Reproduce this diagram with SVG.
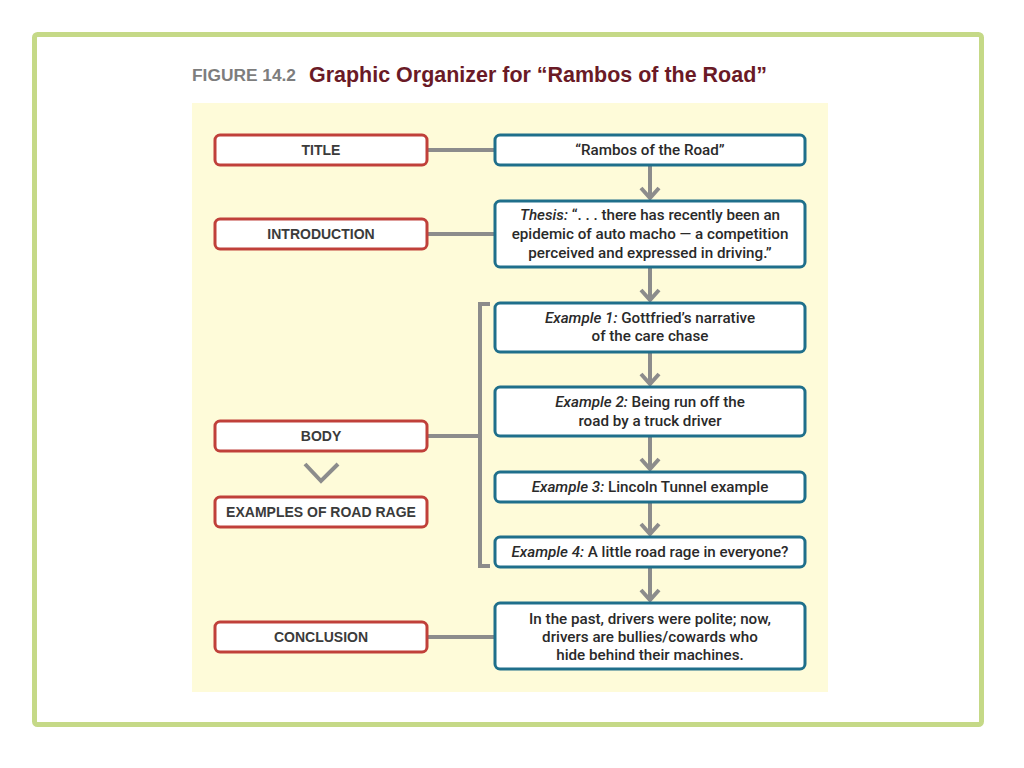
<svg xmlns="http://www.w3.org/2000/svg" width="1024" height="768" viewBox="0 0 1024 768">
<defs>
<style>
.lbox{fill:#fff;stroke:#c0403a;stroke-width:3}
.rbox{fill:#fff;stroke:#1f6f8b;stroke-width:3}
.lt{font-family:"Liberation Sans",Arial,sans-serif;font-weight:bold;font-size:14px;fill:#3b3b3b;text-anchor:middle}
.rt{font-family:Roboto,"Liberation Sans",Arial,sans-serif;font-weight:500;font-size:15.2px;fill:#2a2a2a;text-anchor:middle}
.con{stroke:#8c8c8c;stroke-width:4;fill:none}
</style>
</defs>
<rect x="0" y="0" width="1024" height="768" fill="#fff"/>
<rect x="34.5" y="34.5" width="947" height="690" rx="3" fill="#fff" stroke="#c5d987" stroke-width="5"/>
<text x="192" y="81" font-family="Liberation Sans,Arial,sans-serif" font-weight="bold" font-size="16" fill="#7d7d7d" textLength="104" lengthAdjust="spacingAndGlyphs">FIGURE 14.2</text>
<text x="309" y="82" font-family="Liberation Sans,Arial,sans-serif" font-weight="bold" font-size="22" fill="#6a1a26" textLength="458" lengthAdjust="spacingAndGlyphs">Graphic Organizer for “Rambos of the Road”</text>
<rect x="192" y="103" width="636" height="589" fill="#fefbd9"/>

<g id="connectors" class="con">
<line x1="427" y1="150" x2="495" y2="150"/>
<line x1="427" y1="234" x2="495" y2="234"/>
<line x1="427" y1="637" x2="495" y2="637"/>
<line x1="427" y1="436" x2="480" y2="436"/>
<path d="M490,304 H480 V566 H490"/>
<path d="M650,166 V198 M641,188 L650,198 L659,188"/>
<path d="M650,268 V300 M641,290 L650,300 L659,290"/>
<path d="M650,353 V384 M641,374 L650,384 L659,374"/>
<path d="M650,437 V469 M641,459 L650,469 L659,459"/>
<path d="M650,503 V534 M641,524 L650,534 L659,524"/>
<path d="M650,568 V600 M641,590 L650,600 L659,590"/>
<path d="M305,464 L321,481 L338,464"/>
</g>

<g id="n-title"><rect class="lbox" x="215" y="135" width="212" height="30" rx="5"/><text class="lt" x="321" y="155">TITLE</text></g>
<g id="n-intro"><rect class="lbox" x="215" y="219" width="212" height="30" rx="5"/><text class="lt" x="321" y="239">INTRODUCTION</text></g>
<g id="n-body"><rect class="lbox" x="215" y="421" width="212" height="30" rx="5"/><text class="lt" x="321" y="441">BODY</text></g>
<g id="n-examples"><rect class="lbox" x="215" y="497" width="212" height="30" rx="5"/><text class="lt" x="321" y="517">EXAMPLES OF ROAD RAGE</text></g>
<g id="n-conclusion"><rect class="lbox" x="215" y="622" width="212" height="30" rx="5"/><text class="lt" x="321" y="642">CONCLUSION</text></g>

<g id="r-title"><rect class="rbox" x="495" y="135" width="310" height="30" rx="5"/><text class="rt" x="650" y="155">“Rambos of the Road”</text></g>
<g id="r-thesis"><rect class="rbox" x="495" y="201" width="310" height="66" rx="5"/>
<text class="rt" x="650" y="220"><tspan font-style="italic">Thesis:</tspan> “. . . there has recently been an</text>
<text class="rt" x="650" y="239">epidemic of auto macho — a competition</text>
<text class="rt" x="650" y="258">perceived and expressed in driving.”</text></g>
<g id="r-ex1"><rect class="rbox" x="495" y="303" width="310" height="49" rx="5"/>
<text class="rt" x="650" y="323"><tspan font-style="italic">Example 1:</tspan> Gottfried’s narrative</text>
<text class="rt" x="650" y="341">of the care chase</text></g>
<g id="r-ex2"><rect class="rbox" x="495" y="387" width="310" height="49" rx="5"/>
<text class="rt" x="650" y="407"><tspan font-style="italic">Example 2:</tspan> Being run off the</text>
<text class="rt" x="650" y="426">road by a truck driver</text></g>
<g id="r-ex3"><rect class="rbox" x="495" y="472" width="310" height="30" rx="5"/>
<text class="rt" x="650" y="492"><tspan font-style="italic">Example 3:</tspan> Lincoln Tunnel example</text></g>
<g id="r-ex4"><rect class="rbox" x="495" y="537" width="310" height="30" rx="5"/>
<text class="rt" x="650" y="557"><tspan font-style="italic">Example 4:</tspan> A little road rage in everyone?</text></g>
<g id="r-conclusion"><rect class="rbox" x="495" y="603" width="310" height="66" rx="5"/>
<text class="rt" x="650" y="624">In the past, drivers were polite; now,</text>
<text class="rt" x="650" y="642">drivers are bullies/cowards who</text>
<text class="rt" x="650" y="660">hide behind their machines.</text></g>
</svg>
